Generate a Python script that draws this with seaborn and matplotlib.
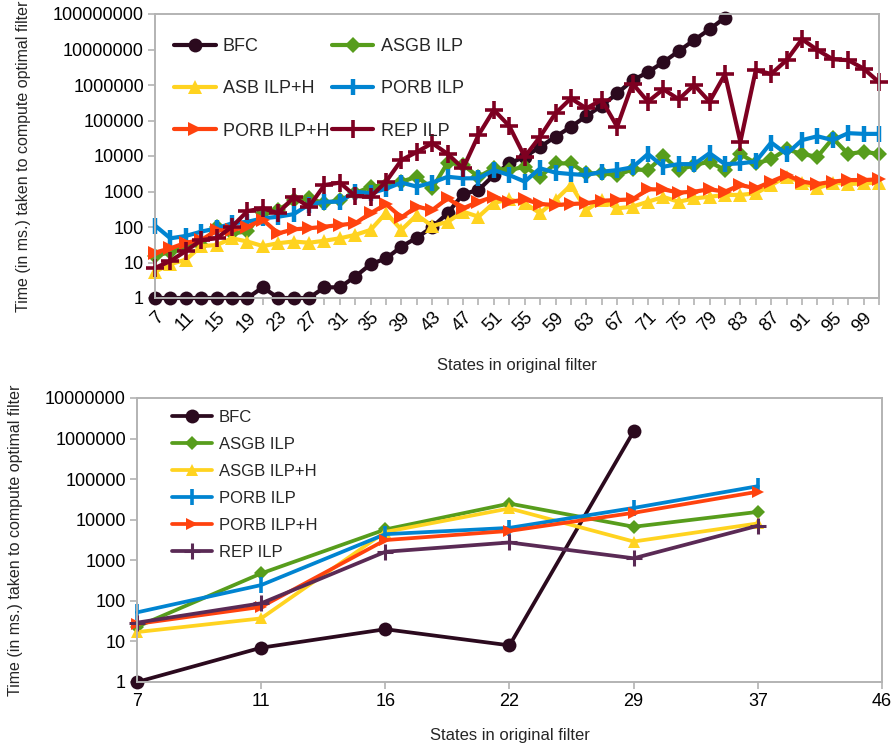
import numpy as np
import pandas as pd
import matplotlib
matplotlib.use("Agg")
import matplotlib.pyplot as plt
from matplotlib.ticker import FixedLocator, FuncFormatter, NullLocator
import seaborn as sns

# ---------------- data: sweep over filter sizes (top panel) ----------------
states_top = list(range(7, 102, 2))
bfc_top = [1, 1, 1, 1, 1, 1, 1, 2, 1, 1,
           1, 2, 2, 4, 9, 13, 28, 50, 100, 245,
           850, 1100, 2900, 6200, 9500, 18000, 35000, 66000, 134000, 260000,
           580000, 1.35e6, 2.3e6, 4.4e6, 9e6, 1.85e7, 3.7e7, 7.9e7]
asgb_top = [15, 20, 30, 31, 100, 66, 75, 250, 300, 575,
            640, 465, 575, 890, 1370, 1500, 1900, 2600, 1230, 6500,
            5600, 2600, 4500, 4000, 5000, 2600, 6200, 6200, 3250, 3250,
            2900, 4200, 4000, 10000, 4000, 5600, 6900, 4000, 11400, 6200,
            8100, 15500, 11400, 9500, 31500, 11400, 13200, 11400]
asbh_top = [5.5, 9, 12, 29, 31, 48, 39, 29, 35, 39,
            36, 41, 48, 60, 83, 250, 83, 218, 107, 140,
            270, 195, 480, 600, 465, 245, 575, 1520, 300, 575,
            335, 375, 515, 700, 515, 640, 710, 800, 800, 890,
            1520, 2600, 1780, 1230, 1780, 1620, 1700, 1780]
porb_top = [110, 48, 56, 74, 92, 127, 140, 175, 195, 230,
            430, 515, 515, 990, 890, 1200, 1780, 1370, 1780, 2600,
            2350, 2350, 4000, 2900, 1900, 4500, 3400, 3100, 2900, 3600,
            4000, 4800, 11400, 5000, 5900, 5900, 12000, 5900, 6200, 7000,
            24000, 11400, 28000, 36000, 28000, 44000, 42000, 42000]
porbh_top = [19, 25, 36, 43, 80, 83, 102, 160, 66, 86,
             92, 102, 114, 127, 245, 440, 187, 375, 300, 640,
             335, 515, 710, 500, 600, 445, 415, 445, 465, 550,
             575, 600, 1150, 1150, 930, 990, 1150, 990, 1520, 1230,
             1900, 2900, 1900, 1620, 1900, 2100, 2100, 2200]
rep_top = [7, 11, 21, 43, 48, 102, 280, 335, 245, 690,
           375, 1520, 1780, 745, 710, 1900, 7700, 13000, 23000, 11400,
           4500, 39000, 198000, 70000, 9500, 35000, 160000, 420000, 220000, 380000,
           67000, 1.1e6, 340000, 760000, 395000, 1e6, 340000, 2e6, 25000, 2.6e6,
           2.05e6, 5e6, 1.95e7, 9.7e6, 5.3e6, 5e6, 2.9e6, 1.2e6]

# ---------------- data: selected filters (bottom panel) ----------------
states_bottom = ["7", "11", "16", "22", "29", "37", "46"]
bfc_b = [1, 7, 20, 8, 1.5e6]
asgb_b = [23, 475, 5750, 25000, 6700, 15600]
asgbh_b = [17, 37, 5000, 19000, 2900, 8100]
porb_b = [52, 245, 4400, 6300, 19500, 67000]
porbh_b = [27, 71, 3150, 5300, 14800, 49000]
rep_b = [29, 87, 1620, 2750, 1120, 7100]

# ---------------- styling ----------------
sns.set_theme(style="white")
plt.rcParams["font.family"] = ["Liberation Sans", "DejaVu Sans"]

C_BFC = "#2b0a1e"
C_ASGB = "#579d1c"
C_ASGBH = "#ffd320"
C_PORB = "#0084d1"
C_PORBH = "#ff420e"
C_REP = "#7e0021"
C_REP_B = "#5a2a55"
SPINE = "#b3b3b3"

fig = plt.figure(figsize=(8.93, 7.49), dpi=100)
ax1 = fig.add_axes([155 / 893, 1 - 298 / 749, (879 - 155) / 893, (298 - 14) / 749])
ax2 = fig.add_axes([137 / 893, 1 - 682 / 749, (882 - 137) / 893, (682 - 398) / 749])


def draw(ax, x, y, label, color, marker, lw, ms, mew=0.0):
    n = len(y)
    df = pd.DataFrame({"x": x[:n], "y": y})
    sns.lineplot(data=df, x="x", y="y", ax=ax, color=color, linewidth=lw,
                 marker=marker, markersize=ms, markeredgewidth=mew,
                 markeredgecolor=color, markerfacecolor=color, label=label,
                 legend=False, clip_on=False)


def style_axes(ax):
    for s in ax.spines.values():
        s.set_color(SPINE)
        s.set_linewidth(1.4)
    ax.set_yscale("log")
    ax.tick_params(axis="both", which="major", direction="out", length=5,
                   width=1.2, color=SPINE, labelsize=13, labelcolor="black",
                   left=True, bottom=True, pad=3)
    ax.yaxis.set_minor_locator(NullLocator())
    ax.yaxis.set_major_formatter(FuncFormatter(lambda v, p: f"{int(round(v))}"))


# ---------------- top panel ----------------
lw1 = 3.0
draw(ax1, states_top, bfc_top, "BFC", C_BFC, "o", lw1, 10)
draw(ax1, states_top, asgb_top, "ASGB ILP", C_ASGB, "D", lw1, 8)
draw(ax1, states_top, asbh_top, "ASB ILP+H", C_ASGBH, "^", lw1, 10)
draw(ax1, states_top, porb_top, "PORB ILP", C_PORB, "|", lw1, 12, 3.2)
draw(ax1, states_top, porbh_top, "PORB ILP+H", C_PORBH, ">", lw1, 10)
draw(ax1, states_top, rep_top, "REP ILP", C_REP, "+", lw1, 13, 2.6)

style_axes(ax1)
ax1.set_xlim(states_top[0], states_top[-1])
ax1.set_ylim(1, 1e8)
ax1.yaxis.set_major_locator(FixedLocator([10 ** k for k in range(9)]))
ax1.xaxis.set_major_locator(FixedLocator(states_top))
ax1.set_xticklabels([str(s) if (s - 7) % 4 == 0 else "" for s in states_top],
                    rotation=45, ha="right", rotation_mode="anchor")
ax1.set_xlabel("States in original filter", fontsize=12, labelpad=16)
ax1.set_ylabel("Time (in ms.) taken to compute optimal filter", fontsize=11.5,
               labelpad=16)

h, l = ax1.get_legend_handles_labels()
order = [0, 2, 4, 1, 3, 5]
fig.legend([h[i] for i in order], [l[i] for i in order], ncol=2,
           loc="upper left", bbox_to_anchor=(174 / 893, 1 - 38 / 749),
           frameon=False, fontsize=13, handlelength=2.3, handletextpad=0.4,
           columnspacing=0.15, labelspacing=1.4, borderpad=0,
           borderaxespad=0)

# ---------------- bottom panel ----------------
pos = list(range(len(states_bottom)))
lw2 = 2.7
draw(ax2, pos, bfc_b, "BFC", C_BFC, "o", lw2, 10)
draw(ax2, pos, asgb_b, "ASGB ILP", C_ASGB, "D", lw2, 7)
draw(ax2, pos, asgbh_b, "ASGB ILP+H", C_ASGBH, "^", lw2, 9)
draw(ax2, pos, porb_b, "PORB ILP", C_PORB, "|", lw2, 11, 2.6)
draw(ax2, pos, porbh_b, "PORB ILP+H", C_PORBH, ">", lw2, 9)
draw(ax2, pos, rep_b, "REP ILP", C_REP_B, "+", lw2, 11, 2.2)

style_axes(ax2)
ax2.set_xlim(pos[0], pos[-1])
ax2.set_ylim(1, 1e7)
ax2.yaxis.set_major_locator(FixedLocator([10 ** k for k in range(8)]))
ax2.xaxis.set_major_locator(FixedLocator(pos))
ax2.set_xticklabels(states_bottom)
ax2.set_xlabel("States in original filter", fontsize=12, labelpad=13)
ax2.set_ylabel("Time (in ms.) taken to compute optimal filter", fontsize=11.5,
               labelpad=16)

h2, l2 = ax2.get_legend_handles_labels()
fig.legend(h2, l2, loc="upper left", bbox_to_anchor=(172 / 893, 1 - 410 / 749),
           frameon=False, fontsize=12, handlelength=2.4, handletextpad=0.4,
           labelspacing=0.72, borderpad=0, borderaxespad=0)

fig.savefig("out.png", dpi=100)
